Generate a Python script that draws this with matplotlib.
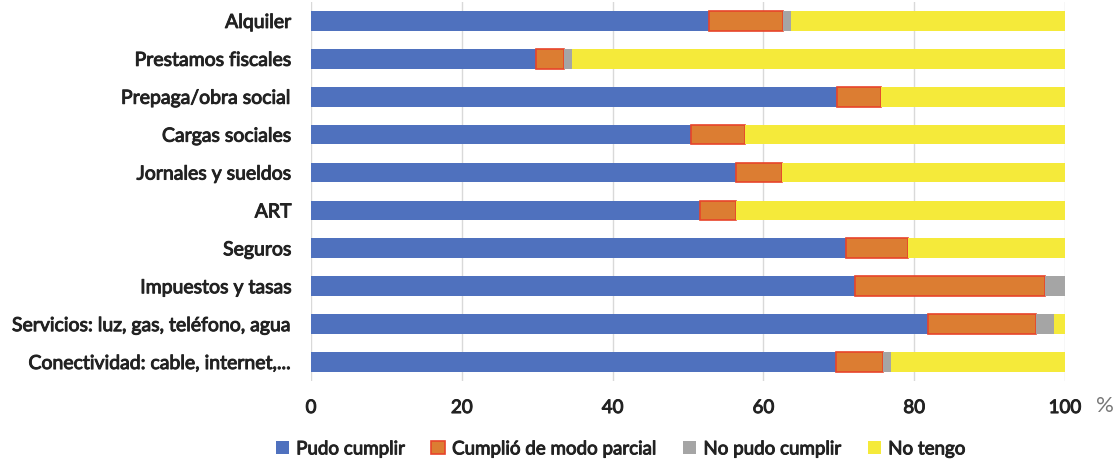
import numpy as np
import matplotlib.pyplot as plt
import matplotlib.patheffects as pe

# categories listed bottom to top
categorias = ['Conectividad: cable, internet,...', 'Servicios: luz, gas, teléfono, agua',
              'Impuestos y tasas', 'Seguros', 'ART', 'Jornales y sueldos',
              'Cargas sociales', 'Prepaga/obra social', 'Prestamos fiscales', 'Alquiler']

pudo_cumplir = [69.6, 81.8, 72.1, 71.0, 51.6, 56.4, 50.4, 69.8, 29.8, 52.8]
parcial = [6.2, 14.4, 25.3, 8.2, 4.8, 6.0, 7.2, 5.8, 3.8, 9.8]
no_pudo = [1.1, 2.3, 2.6, 0.0, 0.0, 0.0, 0.0, 0.0, 1.0, 1.0]
no_tengo = [23.1, 1.5, 0.0, 20.8, 43.6, 37.6, 42.4, 24.4, 65.4, 36.4]

series = [
    ('Pudo cumplir', pudo_cumplir, '#4f71be', 'none'),
    ('Cumplió de modo parcial', parcial, '#dc7d32', '#e8442a'),
    ('No pudo cumplir', no_pudo, '#a5a5a5', 'none'),
    ('No tengo', no_tengo, '#f5ea3a', 'none'),
]

plt.rcParams['font.family'] = ['Lato', 'DejaVu Sans']
# thicken the regular face a bit
grueso = [pe.withStroke(linewidth=0.7, foreground='#222222')]

fig = plt.figure(figsize=(11.16, 4.6), dpi=100)
ax = fig.add_axes([0.2787, 0.1696, 0.6756, 0.8239])

y = np.arange(len(categorias))
left = np.zeros(len(categorias))
handles = []
for nombre, vals, color, borde in series:
    vals = np.array(vals)
    b = ax.barh(y, vals, left=left, height=0.52, color=color,
                edgecolor=borde, linewidth=1.2 if borde != 'none' else 0,
                label=nombre, zorder=3)
    handles.append(b)
    left += vals

ax.set_xlim(0, 100)
ax.set_ylim(-0.5, len(categorias) - 0.5)
ax.set_xticks([0, 20, 40, 60, 80, 100])
ax.set_yticks(y)
ax.set_yticklabels(categorias, fontsize=14, color='#222222')
ax.tick_params(axis='x', labelsize=13.5, colors='#222222', length=0, pad=13)
ax.tick_params(axis='y', length=0, pad=14)
for lbl in ax.get_xticklabels() + ax.get_yticklabels():
    lbl.set_path_effects(grueso)

ax.grid(axis='x', color='#d9d9d9', linewidth=1, zorder=0)
for s in ax.spines.values():
    s.set_visible(False)

fig.text(0.9905, 0.118, '%', fontsize=16, color='#777777', ha='center', va='center')

leg = fig.legend(handles=handles, loc='center', bbox_to_anchor=(0.556, 0.022), ncol=4,
                 frameon=False, handlelength=0.7, handleheight=0.7,
                 handletextpad=0.4, columnspacing=1.4,
                 prop={'family': ['Lato', 'DejaVu Sans'], 'size': 13.5})
for t in leg.get_texts():
    t.set_color('#222222')
    t.set_path_effects(grueso)

fig.savefig('out.png', dpi=100)
